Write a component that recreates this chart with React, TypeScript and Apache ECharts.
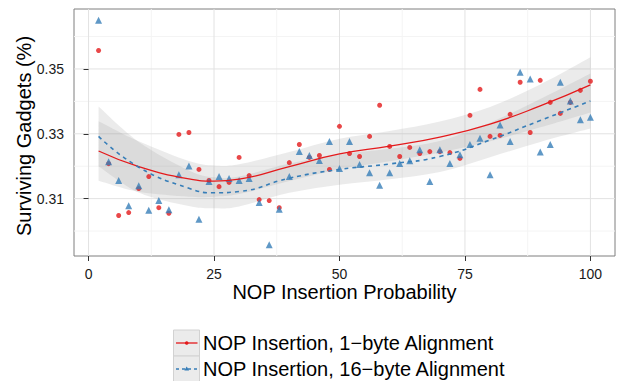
import React, { useEffect, useRef } from "react";
import * as echarts from "echarts";

// ---- Data ----
const probabilities = [
  2, 4, 6, 8, 10, 12, 14, 16, 18, 20, 22, 24, 26, 28, 30, 32, 34, 36, 38, 40, 42, 44, 46, 48, 50,
  52, 54, 56, 58, 60, 62, 64, 66, 68, 70, 72, 74, 76, 78, 80, 82, 84, 86, 88, 90, 92, 94, 96, 98, 100,
];
const align1 = [
  0.3557, 0.3208, 0.3048, 0.3057, 0.3131, 0.3168, 0.3072, 0.3055, 0.3298, 0.3304, 0.319, 0.3156,
  0.3137, 0.315, 0.3227, 0.3171, 0.3097, 0.3094, 0.3072, 0.3211, 0.3267, 0.3227, 0.3233, 0.319,
  0.3323, 0.3239, 0.323, 0.3292, 0.3388, 0.3261, 0.323, 0.3258, 0.3239, 0.3245, 0.3245, 0.3242,
  0.3224, 0.3357, 0.3437, 0.3292, 0.3295, 0.336, 0.3459, 0.3304, 0.3465, 0.3397, 0.3363, 0.3397,
  0.3434, 0.3462,
];
const align16 = [
  0.365, 0.3214, 0.3156, 0.3078, 0.314, 0.3064, 0.3094, 0.3066, 0.3174, 0.3201, 0.3036, 0.3153,
  0.3168, 0.3162, 0.3156, 0.3162, 0.3088, 0.2958, 0.3067, 0.3168, 0.3245, 0.3233, 0.3218, 0.3276,
  0.3193, 0.3276, 0.3205, 0.318, 0.3141, 0.318, 0.3208, 0.3217, 0.3251, 0.3153, 0.3251, 0.3208,
  0.3235, 0.3267, 0.3286, 0.3174, 0.3327, 0.3276, 0.349, 0.3469, 0.3244, 0.3267, 0.3459, 0.3401,
  0.3343, 0.3351,
];
// smoothed fits and confidence half-widths, read at these x positions
const fitX = [2, 10, 20, 25, 30, 40, 50, 60, 70, 80, 90, 100];
const fit1 = [0.3247, 0.3199, 0.3161, 0.3154, 0.316, 0.3199, 0.3238, 0.3262, 0.329, 0.333, 0.3386, 0.3451];
const fit16 = [0.3292, 0.3197, 0.3132, 0.3118, 0.3122, 0.3163, 0.319, 0.3207, 0.323, 0.3281, 0.3341, 0.3401];
const ciHalf = [0.0092, 0.0078, 0.0055, 0.0048, 0.0046, 0.0045, 0.0047, 0.0047, 0.0048, 0.0053, 0.0066, 0.0085];

const xTicks = [0, 25, 50, 75, 100];
const xMinor = [12.5, 37.5, 62.5, 87.5];
const yTicks = [0.31, 0.33, 0.35];
const yMinor = [0.3, 0.32, 0.34, 0.36];
const seriesNames = ["NOP Insertion, 1\u2212byte Alignment", "NOP Insertion, 16\u2212byte Alignment"];

const X_MIN = -2.9;
const X_MAX = 104.9;
const Y_MIN = 0.2923;
const Y_MAX = 0.3685;

const RED = "#E41A1C";
const BLUE = "#377EB8";
const FONT = "'Liberation Sans', Arial, Helvetica, sans-serif";

function gridSeries(values: number[], vertical: boolean, color: string) {
  return {
    type: "custom",
    silent: true,
    z: 0,
    data: values.map((v) => [v]),
    renderItem: (params: any, api: any) => {
      const v = api.value(0);
      const p1 = vertical ? api.coord([v, Y_MIN]) : api.coord([X_MIN, v]);
      const p2 = vertical ? api.coord([v, Y_MAX]) : api.coord([X_MAX, v]);
      return {
        type: "line",
        shape: { x1: p1[0], y1: p1[1], x2: p2[0], y2: p2[1] },
        style: { stroke: color, lineWidth: 1 },
      };
    },
  };
}

// Catmull-Rom spline through pixel points, as bezier segments (without the initial move)
function splineSegs(pts: number[][]): string {
  let d = "";
  for (let i = 0; i < pts.length - 1; i++) {
    const p0 = pts[Math.max(0, i - 1)];
    const p1 = pts[i];
    const p2 = pts[i + 1];
    const p3 = pts[Math.min(pts.length - 1, i + 2)];
    const c1x = p1[0] + (p2[0] - p0[0]) / 6;
    const c1y = p1[1] + (p2[1] - p0[1]) / 6;
    const c2x = p2[0] - (p3[0] - p1[0]) / 6;
    const c2y = p2[1] - (p3[1] - p1[1]) / 6;
    d += ` C${c1x.toFixed(2)} ${c1y.toFixed(2)} ${c2x.toFixed(2)} ${c2y.toFixed(2)} ${p2[0].toFixed(2)} ${p2[1].toFixed(2)}`;
  }
  return d;
}

function bandSeries(fit: number[]) {
  return {
    type: "custom",
    silent: true,
    z: 1,
    data: [[fitX[0], fit[0]]],
    renderItem: (params: any, api: any) => {
      const upper = fitX.map((x, i) => api.coord([x, fit[i] + ciHalf[i]]));
      const lower = fitX.map((x, i) => api.coord([x, fit[i] - ciHalf[i]])).reverse();
      const d =
        `M${upper[0][0].toFixed(2)} ${upper[0][1].toFixed(2)}` +
        splineSegs(upper) +
        ` L${lower[0][0].toFixed(2)} ${lower[0][1].toFixed(2)}` +
        splineSegs(lower) +
        " Z";
      return {
        type: "path",
        shape: { pathData: d },
        style: { fill: "rgba(153,153,153,0.2)", stroke: "none" },
      };
    },
  };
}

export default function App() {
  const ref = useRef<HTMLDivElement>(null);
  useEffect(() => {
    if (!ref.current) return;
    const chart = echarts.init(ref.current, null, { renderer: "svg" });
    const legendY = [343, 369];
    const option: any = {
      animation: false,
      textStyle: { fontFamily: FONT },
      grid: {
        left: 74,
        top: 9,
        right: 2,
        bottom: 125,
        show: true,
        backgroundColor: "#ffffff",
        borderColor: "#7f7f7f",
        borderWidth: 1,
      },
      xAxis: {
        type: "value",
        min: X_MIN,
        max: X_MAX,
        axisLine: { show: false },
        splitLine: { show: false },
        axisTick: {
          show: true,
          customValues: xTicks,
          length: 5,
          lineStyle: { color: "#333333", width: 1 },
        },
        axisLabel: {
          customValues: xTicks,
          fontSize: 14,
          lineHeight: 14,
          color: "#1a1a1a",
          margin: 11,
          fontFamily: FONT,
        },
      },
      yAxis: {
        type: "value",
        min: Y_MIN,
        max: Y_MAX,
        axisLine: { show: false },
        splitLine: { show: false },
        axisTick: {
          show: true,
          customValues: yTicks,
          length: 5,
          lineStyle: { color: "#333333", width: 1 },
        },
        axisLabel: {
          customValues: yTicks,
          fontSize: 14,
          color: "#1a1a1a",
          margin: 10,
          fontFamily: FONT,
          formatter: (v: number) => v.toFixed(2),
        },
      },
      series: [
        gridSeries(xMinor, true, "#f4f4f4"),
        gridSeries(yMinor, false, "#f4f4f4"),
        gridSeries(xTicks, true, "#e2e2e2"),
        gridSeries(yTicks, false, "#e2e2e2"),
        bandSeries(fit1),
        bandSeries(fit16),
        {
          type: "scatter",
          name: seriesNames[0],
          data: probabilities.map((x, i) => [x, align1[i]]),
          symbol: "circle",
          symbolSize: 5,
          itemStyle: { color: RED },
          z: 2,
        },
        {
          type: "scatter",
          name: seriesNames[1],
          data: probabilities.map((x, i) => [x, align16[i]]),
          symbol: "triangle",
          symbolSize: 7,
          itemStyle: { color: BLUE },
          z: 2,
        },
        {
          type: "line",
          data: fitX.map((x, i) => [x, fit1[i]]),
          smooth: true,
          showSymbol: false,
          lineStyle: { color: RED, width: 1.3 },
          z: 3,
        },
        {
          type: "line",
          data: fitX.map((x, i) => [x, fit16[i]]),
          smooth: true,
          showSymbol: false,
          lineStyle: { color: BLUE, width: 1.6, type: [4, 4] },
          z: 3,
        },
      ],
      graphic: [
        {
          type: "text",
          x: 344.5,
          y: 291.5,
          style: {
            text: "NOP Insertion Probability",
            fontSize: 20,
            lineHeight: 20,
            fontFamily: FONT,
            fill: "#000",
            align: "center",
            verticalAlign: "middle",
          },
        },
        {
          type: "text",
          x: 24,
          y: 136,
          rotation: Math.PI / 2,
          style: {
            text: "Surviving Gadgets (%)",
            fontSize: 20,
            fontFamily: FONT,
            fill: "#000",
            align: "center",
            verticalAlign: "middle",
          },
        },
        // legend keys
        ...legendY.flatMap((cy, i) => {
          const color = i === 0 ? RED : BLUE;
          const items: any[] = [
            {
              type: "rect",
              shape: { x: 173.5, y: cy - 13, width: 26, height: 26 },
              style: { fill: "#ebebeb", stroke: "#d2d2d2", lineWidth: 1 },
            },
            {
              type: "line",
              shape: { x1: 176, y1: cy, x2: 197.5, y2: cy },
              style: {
                stroke: color,
                lineWidth: i === 0 ? 1.3 : 1.5,
                lineDash: i === 0 ? null : [3, 3],
              },
            },
            i === 0
              ? { type: "circle", shape: { cx: 186.7, cy, r: 1.8 }, style: { fill: color } }
              : {
                  type: "polygon",
                  shape: { points: [[186.7, cy - 2.6], [184.3, cy + 1.6], [189.1, cy + 1.6]] },
                  style: { fill: color },
                },
            {
              type: "text",
              x: 203,
              y: cy,
              style: {
                text: seriesNames[i],
                fontSize: 20,
                fontFamily: FONT,
                fill: "#000",
                align: "left",
                verticalAlign: "middle",
              },
            },
          ];
          return items;
        }),
      ],
    };
    chart.setOption(option);
    return () => chart.dispose();
  }, []);
  return (
    <div
      ref={ref}
      style={{ position: "fixed", left: 0, top: 0, width: 617, height: 381, background: "#fff" }}
    />
  );
}
